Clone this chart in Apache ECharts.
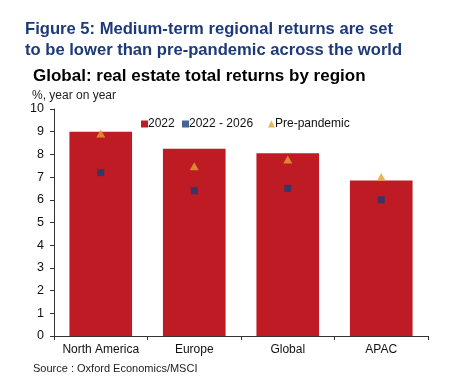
<!DOCTYPE html>
<html><head><meta charset="utf-8">
<script src="https://cdn.jsdelivr.net/npm/echarts@6/dist/echarts.min.js"></script>
<style>html,body{margin:0;padding:0;background:#fff}#c{width:451px;height:383px}</style>
</head><body><div id="c"></div>
<script>
const categories = ['North America', 'Europe', 'Global', 'APAC'];
const values2022 = [9.0, 8.25, 8.05, 6.85];
const values2022to2026 = [7.2, 6.4, 6.5, 6.0];
const valuesPrePandemic = [8.92, 7.48, 7.77, 7.0];
const yTicks = [0, 1, 2, 3, 4, 5, 6, 7, 8, 9, 10];
const seriesNames = ['2022', '2022 - 2026', 'Pre-pandemic'];

const font = '"Liberation Sans", Arial, sans-serif';
const legendBase = {
  top: 113, itemWidth: 7, itemHeight: 7, itemGap: 0,
  textStyle: {fontFamily: font, fontSize: 12, color: '#111', padding: [0,0,0,-5]}
};
const chart = echarts.init(document.getElementById('c'), null, {renderer: 'canvas'});
chart.setOption({
  animation: false,
  backgroundColor: '#fff',
  title: [
    {text: 'Figure 5: Medium-term regional returns are set\nto be lower than pre-pandemic across the world',
     left: 20, top: 14,
     textStyle: {fontFamily: font, fontSize: 16.6, fontWeight: 'bold', color: '#1d3a78', lineHeight: 21}},
    {text: 'Global: real estate total returns by region', left: 28, top: 63,
     textStyle: {fontFamily: font, fontSize: 17, fontWeight: 'bold', color: '#000'}},
    {text: '%, year on year', left: 27, top: 85,
     textStyle: {fontFamily: font, fontSize: 12, fontWeight: 'normal', color: '#222'}},
    {text: 'Source : Oxford Economics/MSCI', left: 28, top: 358,
     textStyle: {fontFamily: font, fontSize: 11, fontWeight: 'normal', color: '#222'}}
  ],
  legend: [
    Object.assign({}, legendBase, {left: 136, data: [{name: seriesNames[0], icon: 'rect'}]}),
    Object.assign({}, legendBase, {left: 177, data: [{name: seriesNames[1], icon: 'rect'}]}),
    Object.assign({}, legendBase, {left: 263, data: [{name: seriesNames[2], icon: 'triangle'}]})
  ],
  grid: {left: 54, right: 23, top: 109, bottom: 47, containLabel: false},
  xAxis: {
    type: 'category', data: categories, boundaryGap: true,
    axisLine: {lineStyle: {color: '#333', width: 1}},
    axisTick: {show: true, length: 4, inside: false, interval: 0, lineStyle: {color: '#333'}},
    axisLabel: {fontFamily: font, fontSize: 12, color: '#111', margin: 8, interval: 0}
  },
  yAxis: {
    type: 'value', min: yTicks[0], max: yTicks[yTicks.length-1], interval: 1,
    splitLine: {show: false},
    axisLine: {show: true, lineStyle: {color: '#333', width: 1}},
    axisTick: {show: true, length: 4, lineStyle: {color: '#333'}},
    axisLabel: {fontFamily: font, fontSize: 12.5, color: '#111', margin: 10}
  },
  series: [
    {name: seriesNames[0], type: 'bar', data: values2022, barCategoryGap: '33%',
     itemStyle: {color: '#be1b25'}},
    {name: seriesNames[1], type: 'scatter', data: values2022to2026, symbol: 'rect', symbolSize: 7,
     itemStyle: {color: '#173d74'}, z: 5},
    {name: seriesNames[2], type: 'scatter', data: valuesPrePandemic, symbol: 'triangle', symbolSize: [9, 8],
     itemStyle: {color: '#e1a230'}, z: 5}
  ]
});
</script></body></html>
